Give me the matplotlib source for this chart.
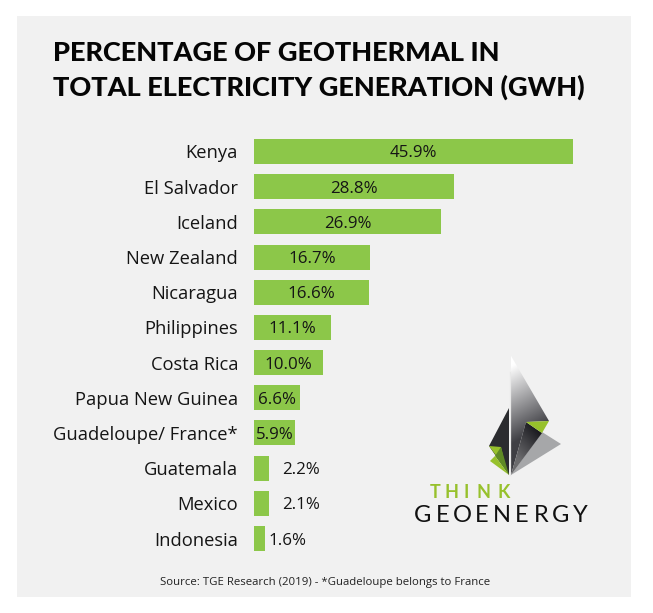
import numpy as np
import matplotlib
matplotlib.use("Agg")
import matplotlib.pyplot as plt
from matplotlib.patches import Polygon, Rectangle

categories = ["Kenya", "El Salvador", "Iceland", "New Zealand", "Nicaragua", "Philippines",
              "Costa Rica", "Papua New Guinea", "Guadeloupe/ France*", "Guatemala", "Mexico", "Indonesia"]
values = [45.9, 28.8, 26.9, 16.7, 16.6, 11.1, 10.0, 6.6, 5.9, 2.2, 2.1, 1.6]
labels = ["45.9%", "28.8%", "26.9%", "16.7%", "16.6%", "11.1%", "10.0%", "6.6%", "5.9%", "2.2%", "2.1%", "1.6%"]
title_lines = ["PERCENTAGE OF GEOTHERMAL IN", "TOTAL ELECTRICITY GENERATION (GWH)"]
source = "Source: TGE Research (2019) - *Guadeloupe belongs to France"

plt.rcParams["font.family"] = ["Open Sans", "DejaVu Sans"]
W, H = 653, 613
fig = plt.figure(figsize=(W / 100, H / 100), dpi=100, facecolor="white")

# page overlay in pixel coordinates
bg = fig.add_axes([0, 0, 1, 1])
bg.set_xlim(0, W); bg.set_ylim(H, 0); bg.axis("off")
bg.add_patch(Rectangle((17, 16), 614, 581, fc="#f1f1f1", ec="none"))
bg.text(53, 53, title_lines[0], fontsize=19.5, fontweight="black", family="Lato", va="center", ha="left", color="#050505")
bg.text(53, 87, title_lines[1], fontsize=19.5, fontweight="black", family="Lato", va="center", ha="left", color="#050505")
bg.text(325.5, 582, source, fontsize=8.2, ha="center", va="center", color="#222222")

# bars
x0, x1 = 254, 573
top, bottom = 133.9, 556.1
ax = fig.add_axes([x0 / W, 1 - bottom / H, (x1 - x0) / W, (bottom - top) / H])
ax.patch.set_alpha(0)
y = np.arange(len(values))
ax.barh(y, values, height=0.71, color="#8cc749")
ax.set_xlim(0, 45.9)
ax.set_ylim(len(values) - 0.5, -0.5)
ax.set_yticks(y, categories, fontsize=13.2, color="#151515")
ax.tick_params(axis="y", length=0, pad=11.5)
ax.set_xticks([])
for s in ax.spines.values():
    s.set_visible(False)
for yi, v, lab in zip(y, values, labels):
    if v < 2:
        ax.text(v + 0.45, yi, lab, ha="left", va="center_baseline", fontsize=12.2, color="#151515")
    elif v < 3:
        ax.text(v + 1.9, yi, lab, ha="left", va="center_baseline", fontsize=12.2, color="#151515")
    else:
        ax.text(v / 2, yi, lab, ha="center", va="center_baseline", fontsize=12.2, color="#151515")

# logo
logo = fig.add_axes([0, 0, 1, 1])
logo.set_xlim(0, W); logo.set_ylim(H, 0); logo.axis("off"); logo.patch.set_alpha(0)

def grad(poly, c0, c1, p0, p1, z=3):
    xs = np.linspace(min(p[0] for p in poly), max(p[0] for p in poly), 80)
    ys = np.linspace(min(p[1] for p in poly), max(p[1] for p in poly), 120)
    X, Y = np.meshgrid(xs, ys)
    d = np.array(p1, float) - np.array(p0, float)
    t = np.clip(((X - p0[0]) * d[0] + (Y - p0[1]) * d[1]) / (d @ d), 0, 1)[..., None]
    im = logo.imshow(np.array(c0) * (1 - t) + np.array(c1) * t,
                     extent=(xs[0], xs[-1], ys[-1], ys[0]), zorder=z, aspect="auto", interpolation="bilinear")
    im.set_clip_path(Polygon(poly, transform=logo.transData))

logo.add_patch(Polygon([(542, 432), (561, 444), (511, 475)], fc="#a6a7a9", ec="none", zorder=2))
grad([(510.5, 355), (549, 421), (526, 422), (511, 475)], (1, 1, 1), (0.25, 0.25, 0.27), (512, 365), (545, 425))
grad([(526, 422), (542, 433), (511, 475)], (0.42, 0.42, 0.43), (0.1, 0.1, 0.12), (515, 455), (540, 432), z=4)
logo.add_patch(Polygon([(526, 422), (549, 421), (542, 433)], fc="#97c12c", ec="none", zorder=5))
logo.add_patch(Polygon([(509, 408), (509, 475), (489, 446)], fc="#2b2c2f", ec="none", zorder=3))
logo.add_patch(Polygon([(489, 446), (501, 447), (506, 469)], fc="#97c12c", ec="none", zorder=4))
logo.add_patch(Polygon([(501, 447), (509, 475), (495, 456)], fc="#5f8a25", ec="none", zorder=5))
logo.add_patch(Polygon([(495, 456), (509, 475), (490, 461)], fc="#97c12c", ec="none", zorder=5))
logo.plot([510, 510], [372, 475], color="#e8e8e8", lw=0.9, zorder=6)
for ch, px in zip("THINK", (435, 452, 466, 484, 504)):
    logo.text(px, 492, ch, fontsize=13, fontweight="bold", family="Lato", color="#97c12c", ha="center", va="center", zorder=6)
for i, ch in enumerate("GEOENERGY"):
    logo.text(423 + i * 19.65, 516, ch, fontsize=17, family="Lato", color="#111111", ha="center", va="center", zorder=6)
logo.set_xlim(0, W); logo.set_ylim(H, 0)

fig.savefig("out.png", dpi=100)
